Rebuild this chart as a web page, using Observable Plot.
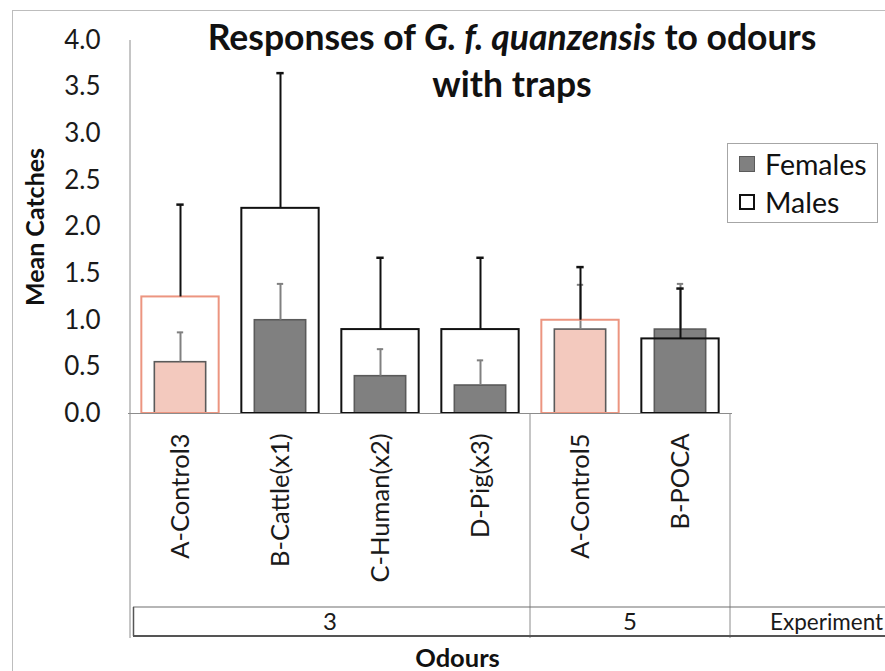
<!DOCTYPE html>
<html>
<head>
<meta charset="utf-8">
<script src="https://cdn.jsdelivr.net/npm/d3@7"></script>
<script src="https://cdn.jsdelivr.net/npm/@observablehq/plot@0.6"></script>
<style>
  body { margin: 0; background: #fff; font-family: Lato, "Open Sans", sans-serif; }
  #wrap { position: relative; width: 885px; height: 671px; overflow: hidden; background: #fff; }
  #border { position: absolute; left: 12px; top: 10px; width: 900px; height: 720px; border: 1px solid #bdbdbd; pointer-events: none; }
  #chart { position: absolute; left: 0; top: 0; }
  #title { position: absolute; left: 112px; width: 800px; top: 13px; text-align: center; font-weight: bold; font-size: 35.5px; line-height: 47px; color: #111; }
  #legend { position: absolute; left: 727px; top: 143px; width: 149px; height: 78px; border: 1px solid #a6a6a6; background: #fff; }
  .item { position: absolute; left: 11px; height: 32px; display: flex; align-items: center; font-size: 28.5px; color: #111; }
  .sw { width: 16px; height: 16px; margin-right: 10px; box-sizing: border-box; }
</style>
</head>
<body>
<div id="wrap">
  <div id="chart"></div>
  <div id="border"></div>
  <div id="title">Responses of <i>G. f. quanzensis</i> to odours<br>with traps</div>
  <div id="legend">
    <div class="item" style="top:4px"><div class="sw" style="background:#808080;border:1.5px solid #5a5a5a"></div>Females</div>
    <div class="item" style="top:42px"><div class="sw" style="background:#fff;border:2px solid #111"></div>Males</div>
  </div>
</div>
<script>
// ---- data ----
const categories = ["A-Control3", "B-Cattle(x1)", "C-Human(x2)", "D-Pig(x3)", "A-Control5", "B-POCA"];
const experiments = ["3", "3", "3", "3", "5", "5"];
const females = [0.55, 1.0, 0.4, 0.3, 0.9, 0.9];
const femalesUpper = [0.87, 1.39, 0.69, 0.57, 1.38, 1.39];
const males = [1.25, 2.2, 0.9, 0.9, 1.0, 0.8];
const malesUpper = [2.24, 3.65, 1.67, 1.67, 1.57, 1.34];
const yTicks = [0, 0.5, 1, 1.5, 2, 2.5, 3, 3.5, 4];
const experimentLabel = "Experiment";

const rows = categories.map((c, i) => ({
  cat: c, exp: experiments[i],
  female: females[i], femaleUp: femalesUpper[i],
  male: males[i], maleUp: malesUpper[i],
  control: c.startsWith("A-Control")
}));

const W = 885, H = 671;
const mL = 128, mR = 153, mT = 40, mB = 258;
const bw = (W - mL - mR) / categories.length;
const maleW = 78, femaleW = 52, maleCap = 8, femaleCap = 7;
const fi = (bw - femaleW) / 2, mi = (bw - maleW) / 2;

const plot = Plot.plot({
  width: W, height: H,
  marginLeft: mL, marginRight: mR, marginTop: mT, marginBottom: mB,
  style: { fontFamily: "Lato, 'Open Sans', sans-serif", background: "transparent", color: "#1a1a1a" },
  x: { domain: categories, padding: 0 },
  y: { domain: [0, 4] },
  marks: [
    Plot.axisY({ ticks: yTicks, tickFormat: d => d.toFixed(1), tickSize: 0, tickPadding: 28, fontSize: 26, label: null }),
    Plot.axisX({ tickSize: 0, tickPadding: 20, tickRotate: -90, textAnchor: "end", lineAnchor: "middle", fontSize: 25.5, label: null }),
    // female bars
    Plot.barY(rows, { x: "cat", y: "female", insetLeft: fi, insetRight: fi,
      fill: d => d.control ? "#f3c9be" : "#808080", stroke: "#5a5a5a", strokeWidth: 1.6 }),
    // female error bars
    Plot.ruleX(rows, { x: "cat", y1: "female", y2: "femaleUp", stroke: "#808080", strokeWidth: 2 }),
    Plot.tickY(rows, { x: "cat", y: "femaleUp", insetLeft: (bw - femaleCap) / 2, insetRight: (bw - femaleCap) / 2, stroke: "#808080", strokeWidth: 2 }),
    // male bars (outline)
    Plot.barY(rows, { x: "cat", y: "male", insetLeft: mi, insetRight: mi, fill: "none",
      stroke: d => d.control ? "#ec9580" : "#111", strokeWidth: 2 }),
    // male error bars
    Plot.ruleX(rows, { x: "cat", y1: "male", y2: "maleUp", stroke: "#111", strokeWidth: 2 }),
    Plot.tickY(rows, { x: "cat", y: "maleUp", insetLeft: (bw - maleCap) / 2, insetRight: (bw - maleCap) / 2, stroke: "#111", strokeWidth: 2.5 }),
    // baseline
    Plot.ruleY([0], { stroke: "#8c8c8c", strokeWidth: 1 }),
    // axis titles
    Plot.text(["Mean Catches"], { text: d => d, frameAnchor: "left", dx: -93, rotate: -90, textAnchor: "middle", lineAnchor: "middle", fontWeight: "bold", fontSize: 25, fill: "#111" }),
    Plot.text(["Odours"], { text: d => d, frameAnchor: "bottom", dx: 27, dy: 245, textAnchor: "middle", lineAnchor: "middle", fontWeight: "bold", fontSize: 25.5, fill: "#111" })
  ]
});
document.getElementById("chart").appendChild(plot);

// ---- category table below the axis, placed with Plot's own scales ----
const xs = plot.scale("x"), ys = plot.scale("y");
const band = xs.bandwidth;
const xStart = xs.apply(categories[0]);
const xEnd = xs.apply(categories[categories.length - 1]) + band;
const yTop = ys.apply(4), yBase = ys.apply(0);
const rowTop = 607, rowBot = 636, lineBot = 638;

const g = d3.select(plot).append("g");
g.append("line").attr("x1", xStart).attr("x2", xStart).attr("y1", yTop).attr("y2", lineBot)
  .attr("stroke", "#8c8c8c").attr("stroke-width", 1);

const groups = [];
experiments.forEach((e, i) => {
  const last = groups[groups.length - 1];
  if (last && last.exp === e) last.end = i; else groups.push({ exp: e, start: i, end: i });
});
groups.forEach(gr => {
  gr.a = xs.apply(categories[gr.start]);
  gr.b = xs.apply(categories[gr.end]) + band;
  g.append("line").attr("x1", gr.b).attr("x2", gr.b).attr("y1", yBase).attr("y2", lineBot)
    .attr("stroke", "#8c8c8c").attr("stroke-width", 1);
});
g.append("line").attr("x1", xStart + 3).attr("x2", W + 5).attr("y1", rowTop).attr("y2", rowTop)
  .attr("stroke", "#6e6e6e").attr("stroke-width", 1.2);
g.append("line").attr("x1", xStart + 3).attr("x2", W + 5).attr("y1", rowBot).attr("y2", rowBot)
  .attr("stroke", "#555").attr("stroke-width", 2);
g.append("line").attr("x1", xStart + 3.5).attr("x2", xStart + 3.5).attr("y1", rowTop).attr("y2", rowBot)
  .attr("stroke", "#555").attr("stroke-width", 1.5);
groups.forEach(gr => {
  g.append("text").attr("x", (gr.a + gr.b) / 2).attr("y", (rowTop + rowBot) / 2)
    .attr("text-anchor", "middle").attr("dy", "0.36em")
    .attr("font-size", 24).attr("fill", "#1a1a1a").text(gr.exp);
});
g.append("text").attr("x", xEnd + 40).attr("y", (rowTop + rowBot) / 2)
  .attr("text-anchor", "start").attr("dy", "0.36em")
  .attr("font-size", 22.5).attr("fill", "#1a1a1a").text(experimentLabel);
</script>
</body>
</html>
